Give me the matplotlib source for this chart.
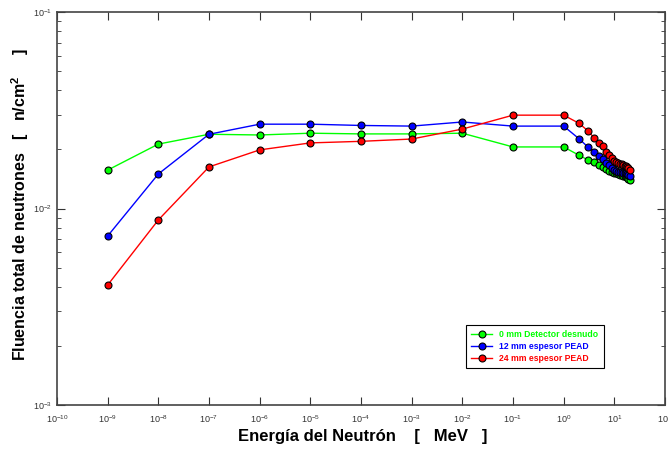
import matplotlib
matplotlib.use('Agg')
import matplotlib.pyplot as plt
import numpy as np

plt.rcParams['font.family'] = ['Liberation Sans', 'DejaVu Sans']
plt.rcParams['mathtext.fontset'] = 'custom'
plt.rcParams['mathtext.rm'] = 'Liberation Sans'
plt.rcParams['mathtext.bf'] = 'Liberation Sans:bold'

# energias en MeV
energia = [1e-9, 1e-8, 1e-7, 1e-6, 1e-5, 1e-4, 1e-3, 1e-2, 1e-1,
           1, 2, 3, 4, 5, 6, 7, 8, 9, 10, 11, 12, 13, 14, 15, 16, 17, 18, 19, 20]

# 0 mm detector desnudo
fl0 = [0.0157, 0.0213, 0.0239, 0.0237, 0.0242, 0.0240, 0.0240, 0.0242, 0.0206,
       0.0206, 0.0187, 0.0177, 0.0172, 0.0166, 0.0163, 0.0159, 0.0156, 0.0154, 0.0152,
       0.0151, 0.0150, 0.0149, 0.0148, 0.0147, 0.0146, 0.0145, 0.0144, 0.0142, 0.0140]
# 12 mm espesor PEAD
fl12 = [0.00725, 0.0150, 0.0239, 0.0269, 0.0269, 0.0265, 0.0263, 0.0276, 0.0263,
        0.0263, 0.0227, 0.0206, 0.0195, 0.0186, 0.0179, 0.0171, 0.0166, 0.0160, 0.0158,
        0.0156, 0.0154, 0.0153, 0.0153, 0.0152, 0.0151, 0.0151, 0.0150, 0.0149, 0.0146]
# 24 mm espesor PEAD
fl24 = [0.00408, 0.00875, 0.0163, 0.0199, 0.0216, 0.0220, 0.0226, 0.0254, 0.0299,
        0.0299, 0.0272, 0.0249, 0.0229, 0.0217, 0.0208, 0.0195, 0.0187, 0.0180, 0.0175,
        0.0172, 0.0170, 0.0169, 0.0168, 0.0166, 0.0165, 0.0165, 0.0163, 0.0161, 0.0157]

labels = ['0 mm Detector desnudo', '12 mm espesor PEAD', '24 mm espesor PEAD']
colores = ['#00ff00', '#0000ff', '#ff0000']

fig = plt.figure(figsize=(6.68, 4.51), dpi=100)
ax = fig.add_axes([0.0853, 0.102, 0.9102, 0.871])

for fl, lab, c in zip([fl0, fl12, fl24], labels, colores):
    ax.plot(energia, fl, color=c, lw=1, marker='o', ms=5, mfc=c, mec='k', mew=0.8, label=lab)

ax.set_xscale('log')
ax.set_yscale('log')
ax.set_xlim(1e-10, 1e2)
ax.set_ylim(1e-3, 1e-1)
ax.set_xticks([10.0**k for k in range(-10, 3)])
ax.set_yticks([1e-3, 1e-2, 1e-1])
ax.tick_params(which='both', direction='in', top=True, right=True, labelsize=6.5, colors='#333333')
ax.tick_params(which='major', length=6)
ax.tick_params(which='minor', length=3)
ax.tick_params(axis='x', pad=6)
for s in ax.spines.values():
    s.set_color('#444444')
    s.set_linewidth(1.2)

ax.set_xlabel('Energía del Neutrón    [   MeV   ]', fontsize=12, fontweight='bold')
ax.xaxis.set_label_coords(0.502, -0.062)
ax.set_ylabel('Fluencia total de neutrones   [   n/cm$\\mathbf{^{2}}$     ]', fontsize=11.5, fontweight='bold')
ax.yaxis.set_label_coords(-0.043, 0.51)

leg = ax.legend(loc='lower right', bbox_to_anchor=(0.906, 0.084), labelcolor='linecolor',
                prop={'weight': 'bold', 'size': 6.2}, fancybox=False, edgecolor='k', framealpha=1,
                handlelength=2.5, borderpad=0.6, labelspacing=0.3)
leg.get_frame().set_linewidth(0.8)

plt.savefig('out.png', dpi=100)
